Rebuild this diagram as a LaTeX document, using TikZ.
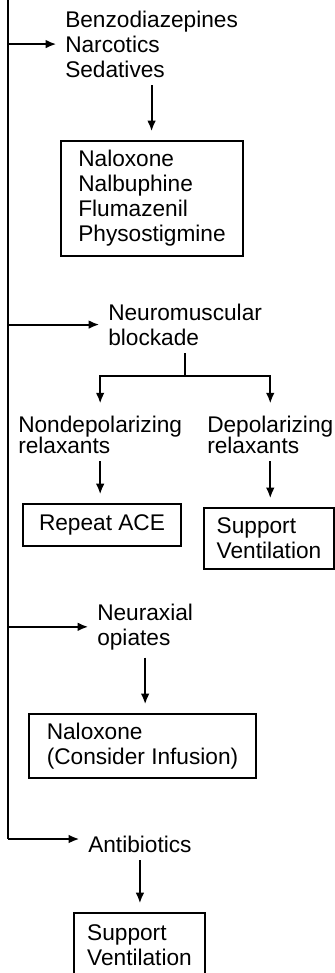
\documentclass[tikz,border=0pt]{standalone}
\usepackage{fontspec}
\setmainfont{Liberation Sans}
\usetikzlibrary{arrows.meta,positioning,calc}

\begin{document}
\begin{tikzpicture}[
    x=0.75pt,y=-0.75pt,
    every node/.style={font=\fontsize{17}{18.75}\selectfont},
    lbl/.style={anchor=north west,inner sep=0pt,align=left},
    box/.style={draw,line width=1.5pt,anchor=north west,inner sep=0pt,align=left},
    arr/.style={-{Latex[length=8pt,width=6.5pt]},line width=1.5pt,shorten >=6.5pt},
    gap/.style={shorten <=5.5pt},
    ln/.style={line width=1.5pt}
  ]
    \useasboundingbox (0,0) rectangle (335,973);

    \node[lbl] (drugs) at (65,10.5) {Benzodiazepines\\Narcotics\\Sedatives};
    \node[box,minimum width=136.5pt,minimum height=86.25pt] (antidotes) at (60,140)
        {Naloxone\\Nalbuphine\\Flumazenil\\Physostigmine};
    \node[lbl] (nmb) at (108,303.5) {Neuromuscular\\blockade};
    \node[lbl] (nondep) at (18,415.5) {Nondepolarizing\\[-3pt]relaxants};
    \node[lbl] (depol) at (207,415.5) {Depolarizing\\[-3pt]relaxants};
    \node[box,minimum width=118.5pt,minimum height=31.5pt] (repeat) at (22,503) {Repeat ACE};
    \node[box,minimum width=97.5pt,minimum height=45.75pt] (suppvent) at (203,507) {Support\\Ventilation};
    \node[lbl] (neurax) at (97,603.5) {Neuraxial\\opiates};
    \node[box,minimum width=170.25pt,minimum height=48pt] (naloxinf) at (28,713)
        {Naloxone\\(Consider Infusion)};
    \node[lbl] (abx) at (88,835.5) {Antibiotics};
    \node[box,minimum width=98.25pt,minimum height=48pt] (suppvent2) at (73,912) {Support\\Ventilation};

    \coordinate (top) at (8,-5);
    \coordinate (bend) at (8,839);
    \coordinate (split) at ($(nmb.south)+(0,30)$);

    % trunk and branches
    \draw[ln] (top) -- (bend);
    \draw[arr] (top |- drugs.west) -- (drugs.west);
    \draw[arr] (top |- nmb.west) -- (nmb.west);
    \draw[arr] (top |- neurax.west) -- (neurax.west);
    \draw[arr] (bend) -- (bend -| abx.west);

    \draw[arr,gap] (drugs.south) -- (drugs.south |- antidotes.north);
    \draw[ln,gap] (nmb.south) -- (split);
    \draw[arr,shorten >=9pt] (split) -| (nondep.north);
    \draw[arr,shorten >=9pt] (split) -| (depol.north);
    \draw[arr,gap] (nondep.south) -- (nondep.south |- repeat.north);
    \draw[arr,gap] (depol.south) -- (depol.south |- suppvent.north);
    \draw[arr,gap] (neurax.south) -- (neurax.south |- naloxinf.north);
    \draw[arr,gap] (abx.south) -- (abx.south |- suppvent2.north);
  \end{tikzpicture}
\end{document}
